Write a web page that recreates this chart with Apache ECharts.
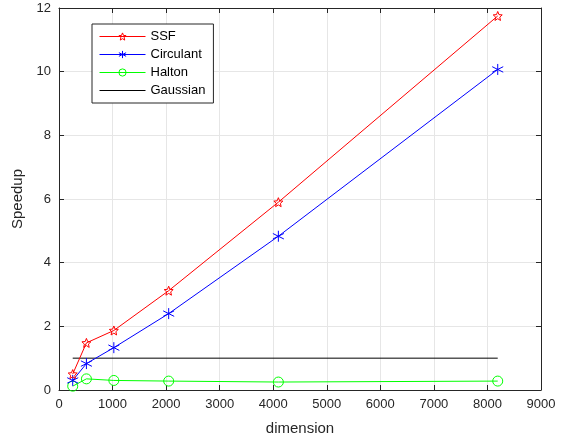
<!DOCTYPE html>
<html><head><meta charset="utf-8">
<script src="https://cdn.jsdelivr.net/npm/echarts@6/dist/echarts.min.js"></script>
<style>html,body{margin:0;padding:0;background:#fff}#c{width:565px;height:442px}</style>
</head><body><div id="c"></div>
<script>
const dims = [256, 512, 1024, 2048, 4096, 8192];
const ssf = [0.5, 1.48, 1.87, 3.12, 5.9, 11.75];
const circulant = [0.3, 0.83, 1.33, 2.4, 4.83, 10.07];
const halton = [0.12, 0.35, 0.3, 0.28, 0.25, 0.28];
const gaussianX = [256, 8192];
const gaussianY = [1, 1];
const xTicks = [0,1000,2000,3000,4000,5000,6000,7000,8000,9000];
const yTicks = [0,2,4,6,8,10,12];

function pairs(xs, ys){ return xs.map((x,i)=>[x, ys[i]]); }

// pentagram path
function starPath(){
  let pts=[];
  for(let i=0;i<10;i++){
    const r = i%2===0 ? 10 : 4.5;
    const a = -Math.PI/2 + i*Math.PI/5;
    pts.push((r*Math.cos(a)).toFixed(3)+','+(r*Math.sin(a)).toFixed(3));
  }
  return 'path://M'+pts.join(' L')+' Z';
}
const asterisk = 'path://M0,-10 L0,10 M-8.66,-5 L8.66,5 M-8.66,5 L8.66,-5';

const axisCol = '#262626';
const font = 'Liberation Sans, Arial, sans-serif';
const clear = 'rgba(0,0,0,0)';

function legItem(name, col, hideSym){
  return {name:name,
    itemStyle: hideSym ? {color:clear, borderColor:clear, borderWidth:0} : {color:clear, borderColor:col, borderWidth:1},
    lineStyle:{color:col, width:1}};
}

const chart = echarts.init(document.getElementById('c'));
chart.setOption({
  animation:false,
  backgroundColor:'#fff',
  grid:{left:59, right:24, top:8, bottom:52},
  legend:{
    orient:'vertical', left:92, top:24,
    backgroundColor:'#fff', borderColor:axisCol, borderWidth:1,
    padding:[6,8,6,7], itemGap:5, itemWidth:46, itemHeight:9,
    textStyle:{fontFamily:font, fontSize:13, color:'#000'},
    lineStyle:{width:1},
    data:[legItem('SSF','#ff0000'), legItem('Circulant','#0000ff'), legItem('Halton','#00ff00'), legItem('Gaussian','#000000', true)]
  },
  xAxis:[{
    type:'value', min:0, max:9000, interval:1000,
    name:'dimension', nameLocation:'middle', nameGap:31,
    nameTextStyle:{fontFamily:font, fontSize:15, color:axisCol},
    axisLine:{lineStyle:{color:axisCol}},
    axisTick:{inside:true, length:5, lineStyle:{color:axisCol}},
    axisLabel:{fontFamily:font, fontSize:13, color:axisCol, margin:8, formatter:(v)=>String(v)},
    splitLine:{show:true, lineStyle:{color:'#e6e6e6'}}
  },{
    type:'value', position:'top', min:0, max:9000, interval:1000,
    axisLine:{show:true, onZero:false, lineStyle:{color:axisCol}},
    axisTick:{inside:true, length:5, lineStyle:{color:axisCol}},
    axisLabel:{show:false}, splitLine:{show:false}
  }],
  yAxis:[{
    type:'value', min:0, max:12, interval:2,
    name:'Speedup', nameLocation:'middle', nameGap:30, nameRotate:90,
    nameTextStyle:{fontFamily:font, fontSize:15, color:axisCol},
    axisLine:{show:true, lineStyle:{color:axisCol}},
    axisTick:{show:true, inside:true, length:5, lineStyle:{color:axisCol}},
    axisLabel:{fontFamily:font, fontSize:13, color:axisCol, margin:8},
    splitLine:{show:true, lineStyle:{color:'#e6e6e6'}}
  },{
    type:'value', position:'right', min:0, max:12, interval:2,
    axisLine:{show:true, onZero:false, lineStyle:{color:axisCol}},
    axisTick:{show:true, inside:true, length:5, lineStyle:{color:axisCol}},
    axisLabel:{show:false}, splitLine:{show:false}
  }],
  series:[
    {name:'SSF', type:'line', data:pairs(dims, ssf), symbol:starPath(), symbolSize:9,
     lineStyle:{color:'#ff0000', width:1}, itemStyle:{color:clear, borderColor:'#ff0000', borderWidth:1}, z:5},
    {name:'Circulant', type:'line', data:pairs(dims, circulant), symbol:asterisk, symbolSize:11,
     lineStyle:{color:'#0000ff', width:1}, itemStyle:{color:clear, borderColor:'#0000ff', borderWidth:1}, z:4},
    {name:'Halton', type:'line', data:pairs(dims, halton), symbol:'circle', symbolSize:10,
     lineStyle:{color:'#00ff00', width:1}, itemStyle:{color:clear, borderColor:'#00ff00', borderWidth:1}, z:3},
    {name:'Gaussian', type:'line', data:pairs(gaussianX, gaussianY), showSymbol:false, symbol:'none',
     lineStyle:{color:'#000', width:1}, itemStyle:{color:'#000'}, z:2}
  ]
});
</script></body></html>
